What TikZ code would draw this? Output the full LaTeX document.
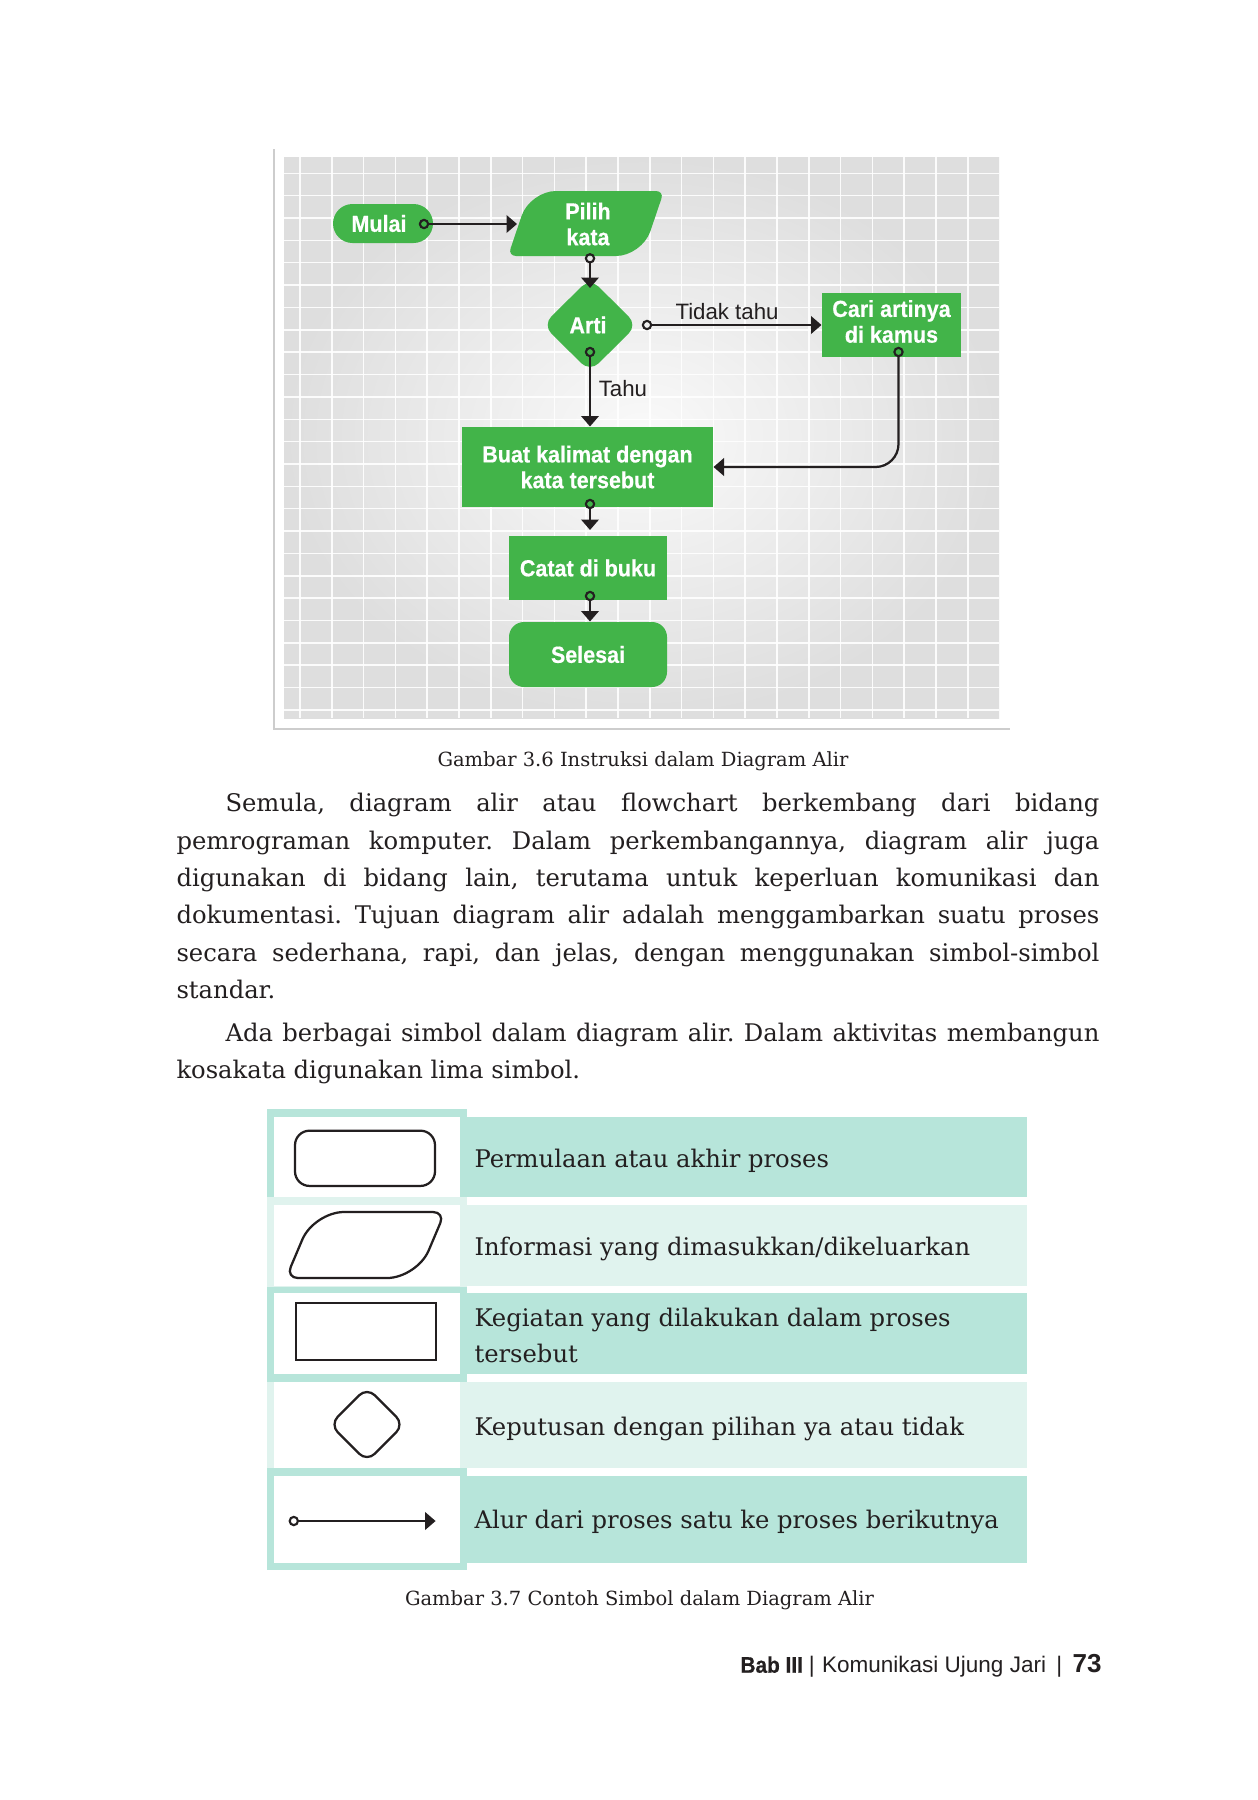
\documentclass[tikz,border=0pt]{standalone}
\usepackage{fontspec}
\setmainfont{DejaVu Serif}
\newfontfamily\fcfont[FakeStretch=0.925,FakeBold=0.5]{Liberation Sans}
\newfontfamily\sansfont{Liberation Sans}
\usetikzlibrary{arrows.meta,calc,shapes.geometric}
\definecolor{fcgreen}{RGB}{66,180,73}
\definecolor{ink}{RGB}{35,31,32}
\definecolor{tealdark}{RGB}{183,229,218}
\definecolor{teallight}{RGB}{224,243,238}
\definecolor{gridout}{RGB}{222,222,222}
\definecolor{gridin}{RGB}{250,250,250}
\definecolor{framegray}{RGB}{205,205,205}
\frenchspacing
\begin{document}
\begin{tikzpicture}[x=0.4pt,y=-0.4pt,
  fcbox/.style={fill=fcgreen, inner sep=0pt, text=white, align=center,
    font=\fcfont\bfseries\fontsize{9.3}{10.3}\selectfont},
  fctext/.style={inner sep=0pt, text=white, align=center,
    font=\fcfont\bfseries\fontsize{9.3}{10.3}\selectfont},
  dot/.style={circle, draw=ink, line width=0.85pt, inner sep=0pt, minimum size=3.3pt},
  flow/.style={draw=ink, line width=0.9pt, -{Triangle[length=4.2pt,width=7pt]}},
  edgelbl/.style={inner sep=0pt, text=ink, font=\sansfont\fontsize{8.9}{10}\selectfont},
  body/.style={inner sep=0pt, text=ink, anchor=base west, font=\fontsize{9.7}{11}\selectfont},
  tabtxt/.style={inner sep=0pt, text=ink, anchor=base west, font=\fontsize{9.7}{12}\selectfont},
  capt/.style={inner sep=0pt, text=ink, anchor=base, font=\fontsize{7.8}{9}\selectfont},
  foot/.style={inner sep=0pt, text=ink, font=\sansfont\fontsize{9}{11}\selectfont},
  sym/.style={draw=ink, line width=0.9pt, fill=white, inner sep=0pt}
]
\useasboundingbox (0,0) rectangle (1258,1800);
\fill[white] (0,0) rectangle (1258,1800);

% ---------- Figure 3.6 background ----------
\draw[framegray, line width=1pt] (274,149) -- (274,729) -- (1010,729);
\shade[inner color=gridin, outer color=gridout] (284,157) rectangle (999,718);
\foreach \i in {0,...,21}
  \draw[white, line width=0.6pt, opacity=0.9] ({300+31.8*\i},157) -- ({300+31.8*\i},718);
\foreach \j in {0,...,24}
  \draw[white, line width=0.6pt, opacity=0.9] (284,{173.3+22.36*\j}) -- (999,{173.3+22.36*\j});

% ---------- Flowchart nodes ----------
\node[fcbox, rounded corners=7.8pt, minimum width=40pt, minimum height=15.6pt] (mulai) at (383,223.5) {Mulai\hspace*{3.2pt}};

\fill[fcgreen] (510.6,248.4) -- (521.7,215.6) .. controls (526.3,202.1) and (541.7,191) .. (556,191)
  -- (656,191) .. controls (660.4,191) and (662.9,194.4) .. (661.4,198.6)
  -- (650.3,231.4) .. controls (645.7,244.9) and (630.3,256) .. (616,256)
  -- (516,256) .. controls (511.6,256) and (509.1,252.6) .. (510.6,248.4) -- cycle;
\node[fctext] (pilih) at (588,224) {Pilih\\kata};
\coordinate (pilihin) at (517,224);

\node[diamond, fill=fcgreen, minimum width=38pt, minimum height=37.6pt, inner sep=0pt,
  rounded corners=4.8pt, text=white, font=\fcfont\bfseries\fontsize{9.3}{10.3}\selectfont] (arti) at (590,325) {Arti\hspace*{1.6pt}};
\coordinate (artitop) at (590,288);

\node[fcbox, minimum width=55.6pt, minimum height=25.6pt] (cari) at (891.5,325) {};
\node[fctext] (caritxt) at (891.5,321.5) {Cari artinya\\di kamus};
\node[fcbox, minimum width=100.4pt, minimum height=32pt] (buat) at (587.5,467) {Buat kalimat dengan\\kata tersebut};
\node[fcbox, minimum width=63.2pt, minimum height=25.6pt] (catat) at (588,568) {Catat di buku};
\coordinate (catattop) at (590,530);
\node[fcbox, rounded corners=6pt, minimum width=63.2pt, minimum height=26pt] (selesai) at (588,654.5) {Selesai};

% ---------- connectors ----------
\node[dot] (d1) at (424,224) {};
\node[dot] (d2) at (590,258.3) {};
\node[dot] (d3) at (647,325) {};
\node[dot] (d4) at (590,352) {};
\node[dot] (d5) at (898.5,352) {};
\node[dot] (d6) at (590,504) {};
\node[dot] (d7) at (590,596) {};

\draw[flow] (d1) -- (pilihin);
\draw[flow] (d2) -- (artitop);
\draw[flow] (d3) -- (cari.west);
\draw[flow] (d4) -- (buat.north -| d4);
\draw[flow, rounded corners=9.2pt] (d5) |- (buat.east);
\draw[flow] (d6) -- (catattop);
\draw[flow] (d7) -- (selesai.north -| d7);

\node[edgelbl, anchor=base west] (tidak) at (675,319.3) {Tidak tahu};
\node[edgelbl, anchor=base west] (tahu) at (598.3,396) {Tahu};

\node[capt] (cap1) at (643,766.5) {Gambar 3.6 Instruksi dalam Diagram Alir};

% ---------- body text ----------
\node[body] (l1) at (225,811.7) {\makebox[349.6pt][s]{Semula, diagram alir atau flowchart berkembang dari bidang}};
\node[body] (l2) at (176,849) {\makebox[369.2pt][s]{pemrograman komputer. Dalam perkembangannya, diagram alir juga}};
\node[body] (l3) at (176,886.4) {\makebox[369.2pt][s]{digunakan di bidang lain, terutama untuk keperluan komunikasi dan}};
\node[body] (l4) at (176,923.7) {\makebox[369.2pt][s]{dokumentasi. Tujuan diagram alir adalah menggambarkan suatu proses}};
\node[body] (l5) at (176,961) {\makebox[369.2pt][s]{secara sederhana, rapi, dan jelas, dengan menggunakan simbol-simbol}};
\node[body] (l6) at (176,998.4) {standar.};
\node[body] (l7) at (225,1041) {\makebox[349.6pt][s]{Ada berbagai simbol dalam diagram alir. Dalam aktivitas membangun}};
\node[body] (l8) at (176,1078.3) {kosakata digunakan lima simbol.};

% ---------- table ----------
\fill[tealdark]  (266.5,1109.3) rectangle (466.5,1197.3);
\fill[teallight] (266.5,1197.3) rectangle (466.5,1293.3);
\fill[tealdark]  (266.5,1286.7) rectangle (466.5,1381.7);
\fill[teallight] (266.5,1381.7) rectangle (466.5,1468.3);
\fill[tealdark]  (266.5,1468.3) rectangle (466.5,1570);
\fill[white] (274,1116.7) rectangle (460,1197.3);
\fill[white] (274,1205) rectangle (460,1285.7);
\fill[white] (274,1293.3) rectangle (460,1374);
\fill[white] (274,1381.7) rectangle (460,1468.3);
\fill[white] (274,1476) rectangle (460,1562.7);
\fill[tealdark]  (460,1116.7) rectangle (1026.7,1197.3);
\fill[teallight] (460,1205) rectangle (1026.7,1285.7);
\fill[tealdark]  (460,1293.3) rectangle (1026.7,1374);
\fill[teallight] (460,1381.7) rectangle (1026.7,1468.3);
\fill[tealdark]  (460,1476) rectangle (1026.7,1562.7);

\node[sym, rectangle, rounded corners=5.8pt, minimum width=56pt, minimum height=22.1pt] (sym1) at (365,1158.3) {};
\draw[draw=ink, line width=0.9pt] (290.7,1267) -- (302.3,1239.6) .. controls (308.7,1224.4) and (327.5,1212) .. (344,1212)
  -- (433,1212) .. controls (439.6,1212) and (442.9,1217) .. (440.3,1223)
  -- (428.7,1250.4) .. controls (422.3,1265.6) and (403.5,1278) .. (387,1278)
  -- (298,1278) .. controls (291.4,1278) and (288.1,1273) .. (290.7,1267) -- cycle;
\node[sym, rectangle, minimum width=56pt, minimum height=22.8pt] (sym3) at (366,1331.5) {};
\node[sym, diamond, rounded corners=4.4pt, minimum width=30pt, minimum height=30pt] (sym4) at (367,1424.5) {};
\node[dot] (sym5) at (293.8,1521) {};
\coordinate (sym5end) at (435.6,1521);
\draw[flow] (sym5) -- (sym5end);

\node[tabtxt] (t1) at (474,1167.5) {Permulaan atau akhir proses};
\node[tabtxt] (t2) at (474,1255.5) {Informasi yang dimasukkan/dikeluarkan};
\node[tabtxt] (t3) at (474,1326) {Kegiatan yang dilakukan dalam proses};
\node[tabtxt] (t3b) at (474,1362) {tersebut};
\node[tabtxt] (t4) at (474,1435) {Keputusan dengan pilihan ya atau tidak};
\node[tabtxt] (t5) at (474,1528.3) {Alur dari proses satu ke proses berikutnya};

\node[capt] (cap2) at (639.5,1605) {Gambar 3.7 Contoh Simbol dalam Diagram Alir};

% ---------- footer ----------
\node[foot, anchor=base west, font=\fcfont\bfseries\fontsize{9}{11}\selectfont] (bab) at (740,1672.7) {Bab III};
\node[foot, anchor=base] (bar1) at (811.7,1672.7) {|};
\node[foot, anchor=base west] (kom) at (821.7,1672.7) {Komunikasi Ujung Jari};
\node[foot, anchor=base] (bar2) at (1059.3,1672.7) {|};
\node[foot, anchor=base east, font=\sansfont\bfseries\fontsize{10.4}{12}\selectfont] (pg) at (1102,1672.7) {73};
\end{tikzpicture}
\end{document}
